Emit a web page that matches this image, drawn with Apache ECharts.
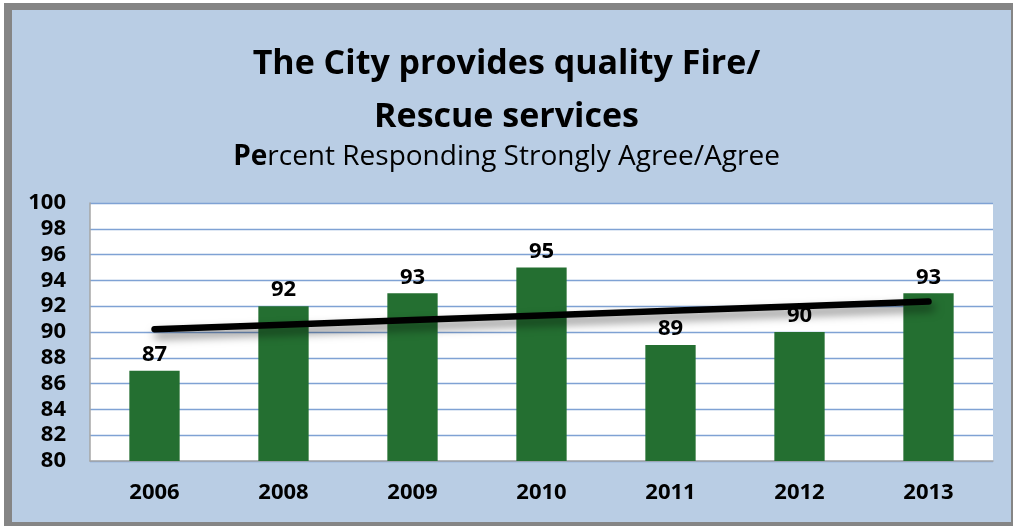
<!DOCTYPE html>
<html>
<head>
<meta charset="utf-8">
<script src="https://cdn.jsdelivr.net/npm/echarts@6/dist/echarts.min.js"></script>
<style>
  html, body { margin: 0; padding: 0; background: #ffffff; }
  #chart { width: 1013px; height: 526px; }
</style>
</head>
<body>
<div id="chart"></div>
<script>
// Survey results by year
const years = ['2006', '2008', '2009', '2010', '2011', '2012', '2013'];
const percentAgree = [87, 92, 93, 95, 89, 90, 93];
const yTicks = { min: 80, max: 100, step: 2 };

// Least-squares linear trend over the category index
function linearTrend(values) {
  const n = values.length;
  let sx = 0, sy = 0, sxy = 0, sxx = 0;
  values.forEach((v, i) => { sx += i; sy += v; sxy += i * v; sxx += i * i; });
  const slope = (n * sxy - sx * sy) / (n * sxx - sx * sx);
  const intercept = (sy - slope * sx) / n;
  return values.map((_, i) => +(intercept + slope * i).toFixed(3));
}
const trend = linearTrend(percentAgree);

const FONT = '"Open Sans", "DejaVu Sans", sans-serif';
const chart = echarts.init(document.getElementById('chart'), null, { renderer: 'canvas' });

chart.setOption({
  backgroundColor: '#ffffff',
  animation: false,
  graphic: [
    { type: 'rect', z: -10, silent: true, shape: { x: 4, y: 3, width: 1009, height: 523 }, style: { fill: '#858585' } },
    { type: 'rect', z: -9, silent: true, shape: { x: 12, y: 10, width: 999, height: 512 }, style: { fill: '#b9cde4' } },
    {
      type: 'text', left: 'center', top: 38, z: 10,
      style: {
        text: 'The City provides quality Fire/\nRescue services',
        fill: '#000', font: 'bold 34px ' + FONT, textAlign: 'center', lineHeight: 53
      }
    },
    {
      type: 'text', left: 'center', top: 143, z: 10,
      style: {
        text: '{b|Pe}{n|rcent Responding Strongly Agree/Agree}',
        rich: {
          b: { fill: '#000', font: 'bold 28px ' + FONT },
          n: { fill: '#000', font: '28px ' + FONT }
        }
      }
    }
  ],
  grid: { left: 90, right: 20, top: 203, bottom: 65, show: true, backgroundColor: '#ffffff', borderWidth: 0 },
  xAxis: {
    type: 'category',
    data: years,
    axisLine: { show: true, lineStyle: { color: '#a6a6a6', width: 1.5 } },
    axisTick: { show: false },
    axisLabel: { color: '#000', fontFamily: FONT, fontWeight: 'bold', fontSize: 22, margin: 21 }
  },
  yAxis: {
    type: 'value',
    min: yTicks.min, max: yTicks.max, interval: yTicks.step,
    axisLine: { show: true, lineStyle: { color: '#a6a6a6', width: 1.5 } },
    axisTick: { show: false },
    axisLabel: { color: '#000', fontFamily: FONT, fontWeight: 'bold', fontSize: 22, margin: 24 },
    splitLine: { show: true, lineStyle: { color: '#7fa2d4', width: 1.3 } }
  },
  series: [
    {
      type: 'bar',
      data: percentAgree,
      barWidth: '39%',
      itemStyle: { color: '#246f31' },
      label: {
        show: true, position: 'top', distance: 5,
        color: '#000', fontFamily: FONT, fontWeight: 'bold', fontSize: 22
      },
      z: 2
    },
    {
      type: 'line',
      data: trend,
      symbol: 'none',
      silent: true,
      lineStyle: {
        color: '#000', width: 6.5, cap: 'round',
        shadowColor: 'rgba(0,0,0,0.5)', shadowBlur: 10, shadowOffsetY: 6, shadowOffsetX: 3
      },
      z: 3
    }
  ]
});
</script>
</body>
</html>
